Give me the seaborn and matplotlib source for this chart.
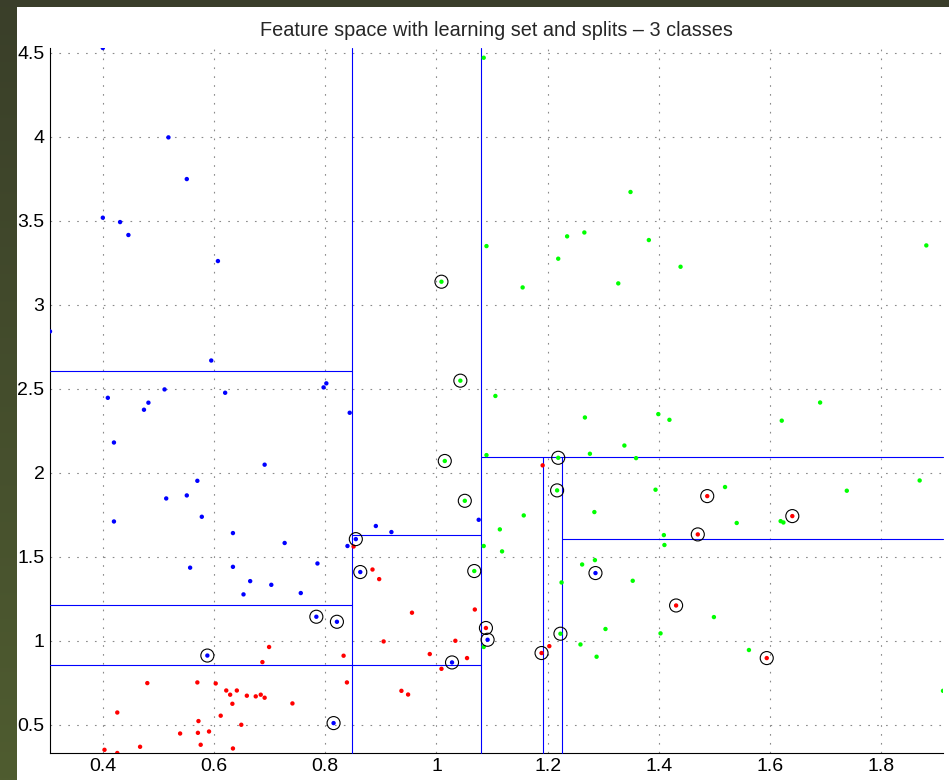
import numpy as np
import pandas as pd
import matplotlib
matplotlib.use("Agg")
import matplotlib.pyplot as plt
import seaborn as sns
from matplotlib.patches import Rectangle

# ---- learning set -------------------------------------------------------
# class 1 (blue); miss = 1 marks a wrongly classified sample
blue_x = [0.400, 0.518, 0.551, 0.400, 0.431, 0.446, 0.607, 0.305, 0.595, 0.511,
          0.620, 0.797, 0.802, 0.409, 0.482, 0.474, 0.844, 0.420, 0.691, 0.570,
          0.551, 0.514, 0.578, 0.420, 0.634, 0.727, 0.840, 0.557, 0.634, 0.786,
          0.665, 0.703, 0.653, 0.756, 0.891, 0.919, 1.076,
          0.855, 0.863, 0.784, 0.821, 0.588, 0.815, 1.028, 1.092, 1.286]
blue_y = [4.528, 3.996, 3.748, 3.518, 3.492, 3.415, 3.260, 2.841, 2.668, 2.496,
          2.476, 2.508, 2.532, 2.446, 2.417, 2.375, 2.357, 2.180, 2.048, 1.952,
          1.865, 1.847, 1.738, 1.710, 1.641, 1.582, 1.564, 1.435, 1.440, 1.460,
          1.355, 1.333, 1.276, 1.284, 1.683, 1.647, 1.720,
          1.605, 1.409, 1.143, 1.113, 0.912, 0.510, 0.871, 1.006, 1.403]
blue_miss = [0] * 37 + [1] * 9

# class 2 (red)
red_x = [0.699, 0.687, 0.833, 0.839, 0.480, 0.570, 0.603, 0.622, 0.641, 0.629,
         0.659, 0.675, 0.684, 0.691, 0.633, 0.741, 0.426, 0.612, 0.572, 0.649,
         0.539, 0.571, 0.591, 0.576, 0.467, 0.634, 0.403, 0.426,
         0.851, 0.885, 0.897, 0.956, 1.069, 0.905, 1.034, 0.988, 1.055, 1.009,
         0.937, 0.949, 1.191, 1.203,
         1.089, 1.189, 1.487, 1.640, 1.470, 1.431, 1.594]
red_y = [0.963, 0.873, 0.911, 0.752, 0.748, 0.752, 0.746, 0.704, 0.704, 0.679,
         0.673, 0.669, 0.679, 0.661, 0.625, 0.627, 0.573, 0.554, 0.522, 0.500,
         0.448, 0.452, 0.460, 0.381, 0.369, 0.359, 0.351, 0.332,
         1.561, 1.424, 1.367, 1.167, 1.186, 0.996, 1.000, 0.921, 0.897, 0.833,
         0.702, 0.680, 2.044, 0.968,
         1.076, 0.927, 1.861, 1.742, 1.633, 1.210, 0.897]
red_miss = [0] * 42 + [1] * 7

# class 3 (green)
green_x = [1.085, 1.349, 1.090, 1.235, 1.266, 1.382, 1.219, 1.155, 1.327, 1.439,
           1.881, 1.106, 1.267, 1.338, 1.090, 1.276, 1.359, 1.157, 1.284, 1.114,
           1.085, 1.118, 1.262, 1.285, 1.353, 1.225, 1.304, 1.259, 1.288, 1.085,
           1.399, 1.419, 1.621, 1.690, 1.394, 1.519, 1.738, 1.869, 1.540, 1.619,
           1.624, 1.409, 1.410, 1.499, 1.403, 1.562, 1.911,
           1.009, 1.043, 1.015, 1.219, 1.217, 1.051, 1.068, 1.223]
green_y = [4.470, 3.671, 3.349, 3.407, 3.430, 3.385, 3.274, 3.103, 3.127, 3.226,
           3.353, 2.457, 2.329, 2.162, 2.105, 2.113, 2.087, 1.746, 1.766, 1.663,
           1.564, 1.532, 1.454, 1.480, 1.357, 1.347, 1.070, 0.978, 0.905, 0.963,
           2.349, 2.315, 2.310, 2.418, 1.899, 1.915, 1.893, 1.954, 1.701, 1.712,
           1.704, 1.629, 1.570, 1.141, 1.044, 0.945, 0.702,
           3.137, 2.548, 2.070, 2.089, 1.895, 1.833, 1.415, 1.042]
green_miss = [0] * 47 + [1] * 8

# ---- decision tree splits (inf = runs to the axis edge) -----------------
vsplit_x = [0.848, 1.080, 1.191, 1.225]
vsplit_y0 = [-np.inf, -np.inf, -np.inf, -np.inf]
vsplit_y1 = [np.inf, np.inf, 2.093, 2.093]

hsplit_y = [2.603, 1.212, 0.855, 1.629, 2.093, 1.603]
hsplit_x0 = [-np.inf, -np.inf, -np.inf, 0.848, 1.080, 1.225]
hsplit_x1 = [0.848, 0.848, 1.080, 1.080, np.inf, np.inf]

x_ticks = [0.4, 0.6, 0.8, 1.0, 1.2, 1.4, 1.6, 1.8]
x_tick_labels = ["0.4", "0.6", "0.8", "1", "1.2", "1.4", "1.6", "1.8"]
y_ticks = [0.5, 1.0, 1.5, 2.0, 2.5, 3.0, 3.5, 4.0, 4.5]
y_tick_labels = ["0.5", "1", "1.5", "2", "2.5", "3", "3.5", "4", "4.5"]

title = "Feature space with learning set and splits \u2013 3 classes"

# ---- assemble ------------------------------------------------------------
df = pd.concat([
    pd.DataFrame({"x": blue_x, "y": blue_y, "cls": "1", "miss": blue_miss}),
    pd.DataFrame({"x": red_x, "y": red_y, "cls": "2", "miss": red_miss}),
    pd.DataFrame({"x": green_x, "y": green_y, "cls": "3", "miss": green_miss}),
], ignore_index=True)
palette = {"1": "#0000ff", "2": "#ff0000", "3": "#00ff00"}

sns.set_style("white")
plt.rcParams["font.family"] = ["Liberation Sans", "DejaVu Sans"]

W, H = 949, 780
fig = plt.figure(figsize=(W / 100, H / 100), dpi=100, facecolor="#3a3e2a")

# white page inside the dark frame, with a shaded strip on the left
page = Rectangle((17 / W, 0), 1, (H - 7) / H, transform=fig.transFigure,
                 facecolor="white", edgecolor="none")
page.set_zorder(-10)
fig.patches.append(page)
gax = fig.add_axes([0, 0, 17 / W, (H - 7) / H])
gax.set_zorder(-5)
top_c = np.array(matplotlib.colors.to_rgb("#3a3f29"))
bot_c = np.array(matplotlib.colors.to_rgb("#4f5c30"))
t = np.linspace(0, 1, 256)[:, None, None]
grad = top_c[None, None, :] * (1 - t) + bot_c[None, None, :] * t
gax.imshow(grad, aspect="auto", interpolation="bilinear")
gax.axis("off")

ax = fig.add_axes([50 / W, 27 / H, 893 / W, 705 / H])
ax.set_zorder(1)
ax.set_facecolor("white")

sns.scatterplot(data=df, x="x", y="y", hue="cls", palette=palette, s=10,
                linewidth=0, legend=False, ax=ax, zorder=4)
miss = df[df["miss"] == 1]
ax.scatter(miss["x"], miss["y"], s=88, facecolors="none", edgecolors="black",
           linewidths=0.8, zorder=5)

xmin, xmax = df["x"].min(), df["x"].max()
ymin, ymax = df["y"].min(), df["y"].max()
ax.set_xlim(xmin, xmax)
ax.set_ylim(ymin, ymax)

for xv, y0, y1 in zip(vsplit_x, vsplit_y0, vsplit_y1):
    ax.plot([xv, xv], [max(y0, ymin), min(y1, ymax)], color="#0000ff",
            linewidth=0.8, zorder=3, clip_on=False)
for yv, x0, x1 in zip(hsplit_y, hsplit_x0, hsplit_x1):
    ax.plot([max(x0, xmin), min(x1, xmax)], [yv, yv], color="#0000ff",
            linewidth=0.8, zorder=3, clip_on=False)

ax.set_xticks(x_ticks, x_tick_labels)
ax.set_yticks(y_ticks, y_tick_labels)
ax.tick_params(direction="in", length=7, width=0.8, color="#404040",
               labelsize=14, labelcolor="black")
ax.tick_params(axis="x", pad=3.5)
ax.tick_params(axis="y", pad=4)
ax.grid(True, color="#8a8a8a", linestyle=(0, (1.5, 6.5)), linewidth=0.8)
ax.set_axisbelow(True)
for side in ("top", "right"):
    ax.spines[side].set_visible(False)
for side in ("left", "bottom"):
    ax.spines[side].set_color("black")
    ax.spines[side].set_linewidth(0.8)
ax.set_xlabel("")
ax.set_ylabel("")
ax.set_title(title, fontsize=14.3, pad=9)

fig.savefig("out.png", dpi=100, facecolor=fig.get_facecolor())
